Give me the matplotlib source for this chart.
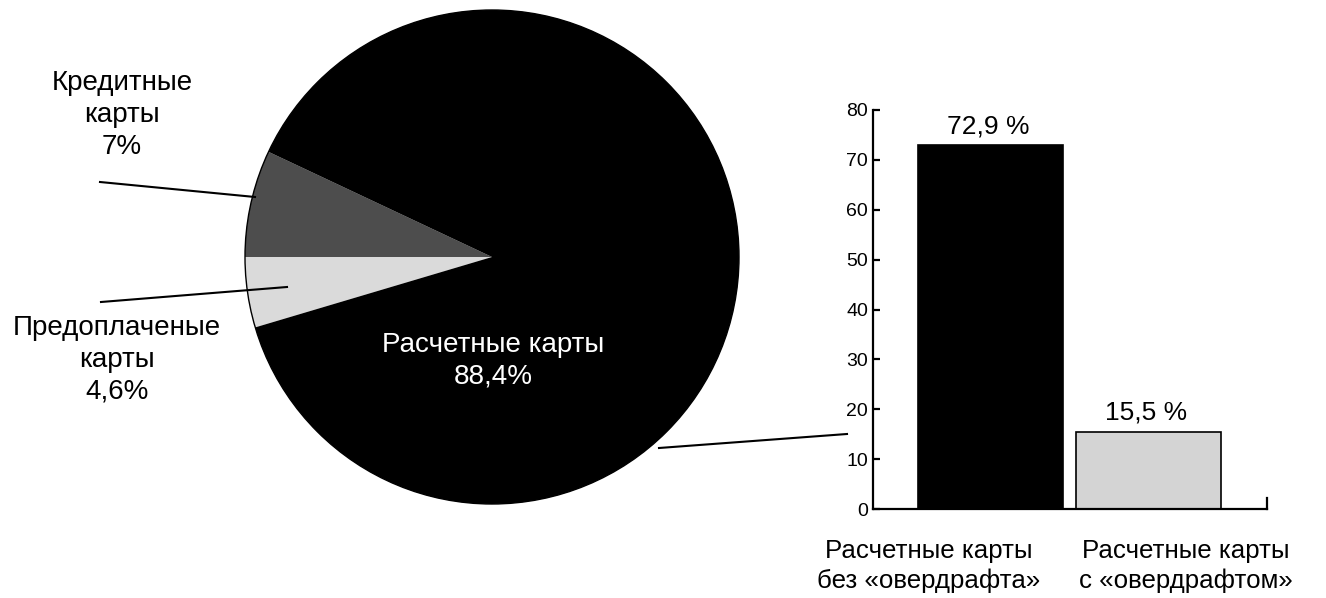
import matplotlib
matplotlib.use("Agg")
import matplotlib.pyplot as plt
from matplotlib.patches import Circle
import numpy as np

plt.rcParams['font.family'] = ['Liberation Sans', 'DejaVu Sans']

# ---- data ----
pie_labels = ["Кредитные\nкарты\n7%", "Предоплаченые\nкарты\n4,6%", "Расчетные карты\n88,4%"]
pie_values = [7.0, 4.6, 88.4]
pie_colors = ["#4d4d4d", "#dadada", "#000000"]

bar_categories = ["Расчетные карты\nбез «овердрафта»", "Расчетные карты\nс «овердрафтом»"]
bar_values = [72.9, 15.5]
bar_texts = ["72,9 %", "15,5 %"]
bar_colors = ["#000000", "#d4d4d4"]
y_ticks = [0, 10, 20, 30, 40, 50, 60, 70, 80]

W, H = 1326, 598
fig = plt.figure(figsize=(W / 100, H / 100), dpi=100)

def Y(y):
    return H - y

# ---- overlay axes in pixel coordinates (pie + leader lines) ----
ax0 = fig.add_axes([0, 0, 1, 1])
cx, cy, r = 492, 257, 247
ax0.pie(pie_values, colors=pie_colors, startangle=180 - pie_values[0] * 3.6,
        counterclock=True, center=(cx, Y(cy)), radius=r,
        wedgeprops=dict(linewidth=0))
ax0.add_patch(Circle((cx, Y(cy)), r, fill=False, edgecolor="black", linewidth=1.0))
ax0.set_xlim(0, W)
ax0.set_ylim(0, H)
ax0.set_aspect('auto')
ax0.axis('off')

fs_side = 20
ax0.text(122, Y(115), pie_labels[0], ha='center', va='center', fontsize=fs_side,
         linespacing=1.28)
ax0.text(117, Y(360), pie_labels[1], ha='center', va='center', fontsize=fs_side,
         linespacing=1.28)
ax0.text(493, Y(361), pie_labels[2], ha='center', va='center', fontsize=20,
         color='white', linespacing=1.28)

ax0.plot([100, 255], [Y(182), Y(197)], color='black', lw=1.5)
ax0.plot([101, 287], [Y(302), Y(287)], color='black', lw=1.5)
ax0.plot([659, 847], [Y(448), Y(434)], color='black', lw=1.5)

# ---- bar chart ----
left_px, right_px, bot_px, top_px = 873, 1267, 509, 110
ax = fig.add_axes([left_px / W, (H - bot_px) / H, (right_px - left_px) / W,
                   (bot_px - top_px) / H])
x = np.arange(len(bar_values))
ax.bar(x, bar_values, width=0.918, color=bar_colors, edgecolor='black', linewidth=1.2)
ax.set_xlim(-0.744, 1.75)
ax.set_ylim(0, 80)
ax.set_yticks(y_ticks)
ax.tick_params(axis='y', direction='in', length=5, width=1.6, pad=3.5, labelsize=14)
ax.tick_params(axis='x', length=0, labelbottom=False)
ax.spines['top'].set_visible(False)
ax.spines['left'].set_linewidth(1.6)
ax.spines['bottom'].set_linewidth(1.6)
ax.spines['right'].set_linewidth(1.6)
ax.spines['right'].set_bounds(0, 2.2)
ax.patch.set_alpha(0)

for xi, v, t in zip(x, bar_values, bar_texts):
    ax.annotate(t, (xi, v), xytext=(-2, 8.5), textcoords='offset points',
                ha='center', va='baseline', fontsize=19)

label_x = [929, 1186]
for lx, lab in zip(label_x, bar_categories):
    ax0.text(lx, Y(566), lab, ha='center', va='center', fontsize=18.6, linespacing=1.33)

fig.savefig("out.png", dpi=100)
